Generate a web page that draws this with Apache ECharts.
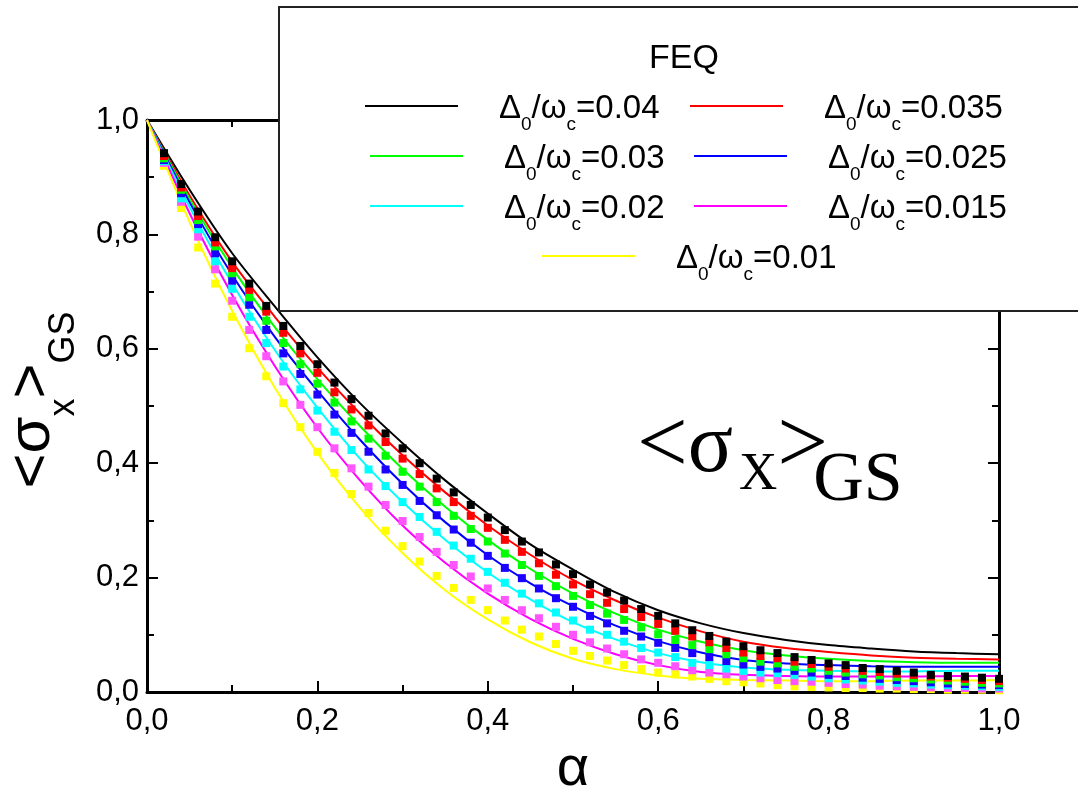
<!DOCTYPE html>
<html>
<head>
<meta charset="utf-8">
<script src="https://cdn.jsdelivr.net/npm/echarts@6/dist/echarts.min.js"></script>
<style>
  html, body { margin: 0; padding: 0; background: #ffffff; }
  #chart { width: 1078px; height: 786px; }
</style>
</head>
<body>
<div id="chart"></div>
<script>
// alpha grid of the solid (theory) curves and of the square (FEQ) points
const alphaLine = [0, 0.05, 0.10, 0.15, 0.20, 0.25, 0.30, 0.35, 0.40, 0.45, 0.50,
                   0.55, 0.60, 0.65, 0.70, 0.75, 0.80, 0.85, 0.90, 0.95, 1.00];
const alphaDots = [0.02, 0.04, 0.06, 0.08, 0.10, 0.12, 0.14, 0.16, 0.18, 0.20,
                   0.22, 0.24, 0.26, 0.28, 0.30, 0.32, 0.34, 0.36, 0.38, 0.40,
                   0.42, 0.44, 0.46, 0.48, 0.50, 0.52, 0.54, 0.56, 0.58, 0.60,
                   0.62, 0.64, 0.66, 0.68, 0.70, 0.72, 0.74, 0.76, 0.78, 0.80,
                   0.82, 0.84, 0.86, 0.88, 0.90, 0.92, 0.94, 0.96, 0.98, 1.00];

// Δ0/ωc values, one per curve
const deltaLabels = ['0.04', '0.035', '0.03', '0.025', '0.02', '0.015', '0.01'];
const lineColors = ['#000000', '#ff0000', '#00ff00', '#0000ff', '#00ffff', '#ff00ff', '#ffff00'];
const dotColors  = ['#000000', '#ff0000', '#00ff00', '#1a00ff', '#00ffff', '#ff55ff', '#ffff00'];

// solid curves <σx>GS(α)
const lineD040 = [1, 0.878, 0.767, 0.674, 0.585, 0.505, 0.435, 0.370, 0.312, 0.258, 0.214,
                  0.174, 0.143, 0.120, 0.103, 0.091, 0.082, 0.076, 0.071, 0.068, 0.066];
const lineD035 = [1, 0.868, 0.752, 0.656, 0.567, 0.487, 0.414, 0.349, 0.291, 0.240, 0.196,
                  0.160, 0.130, 0.106, 0.088, 0.077, 0.070, 0.064, 0.060, 0.058, 0.057];
const lineD030 = [1, 0.862, 0.742, 0.638, 0.547, 0.465, 0.390, 0.324, 0.266, 0.215, 0.172,
                  0.137, 0.109, 0.088, 0.073, 0.064, 0.058, 0.054, 0.052, 0.051, 0.051];
const lineD025 = [1, 0.856, 0.729, 0.621, 0.527, 0.441, 0.364, 0.297, 0.239, 0.190, 0.150,
                  0.116, 0.089, 0.069, 0.056, 0.050, 0.047, 0.045, 0.044, 0.044, 0.044];
const lineD020 = [1, 0.848, 0.714, 0.598, 0.497, 0.408, 0.332, 0.266, 0.209, 0.162, 0.122,
                  0.092, 0.068, 0.052, 0.043, 0.039, 0.037, 0.036, 0.036, 0.037, 0.037];
const lineD015 = [1, 0.837, 0.694, 0.570, 0.462, 0.370, 0.291, 0.226, 0.172, 0.128, 0.093,
                  0.066, 0.047, 0.035, 0.030, 0.028, 0.027, 0.027, 0.027, 0.028, 0.028];
const lineD010 = [1, 0.822, 0.666, 0.532, 0.418, 0.322, 0.243, 0.178, 0.127, 0.087, 0.058,
                  0.040, 0.029, 0.023, 0.021, 0.020, 0.019, 0.019, 0.020, 0.020, 0.021];

// FEQ points
const dotsD040 = [0.942, 0.888, 0.840, 0.795, 0.753, 0.714, 0.675, 0.640, 0.605, 0.573,
                  0.541, 0.512, 0.483, 0.452, 0.426, 0.400, 0.373, 0.349, 0.327, 0.305,
                  0.283, 0.263, 0.244, 0.223, 0.206, 0.188, 0.174, 0.160, 0.145, 0.133,
                  0.120, 0.108, 0.098, 0.088, 0.080, 0.073, 0.068, 0.061, 0.056, 0.050,
                  0.047, 0.042, 0.040, 0.037, 0.034, 0.030, 0.028, 0.027, 0.025, 0.023];
const dotsD035 = [0.937, 0.882, 0.832, 0.786, 0.741, 0.703, 0.665, 0.628, 0.592, 0.558,
                  0.524, 0.494, 0.466, 0.437, 0.408, 0.381, 0.356, 0.332, 0.308, 0.287,
                  0.266, 0.245, 0.225, 0.205, 0.188, 0.171, 0.156, 0.145, 0.131, 0.119,
                  0.107, 0.097, 0.087, 0.077, 0.069, 0.063, 0.059, 0.053, 0.049, 0.044,
                  0.041, 0.037, 0.035, 0.032, 0.030, 0.027, 0.025, 0.023, 0.021, 0.019];
const dotsD030 = [0.933, 0.878, 0.825, 0.779, 0.732, 0.690, 0.649, 0.610, 0.573, 0.539,
                  0.506, 0.473, 0.443, 0.413, 0.385, 0.359, 0.332, 0.308, 0.285, 0.263,
                  0.242, 0.222, 0.203, 0.185, 0.168, 0.152, 0.137, 0.126, 0.113, 0.101,
                  0.091, 0.082, 0.075, 0.066, 0.059, 0.053, 0.050, 0.044, 0.041, 0.037,
                  0.034, 0.031, 0.029, 0.026, 0.024, 0.022, 0.020, 0.018, 0.016, 0.015];
const dotsD025 = [0.930, 0.872, 0.818, 0.767, 0.719, 0.677, 0.633, 0.592, 0.556, 0.520,
                  0.485, 0.453, 0.420, 0.389, 0.362, 0.334, 0.309, 0.284, 0.261, 0.238,
                  0.217, 0.199, 0.181, 0.164, 0.149, 0.133, 0.120, 0.107, 0.097, 0.086,
                  0.077, 0.068, 0.061, 0.054, 0.048, 0.044, 0.041, 0.037, 0.034, 0.030,
                  0.028, 0.025, 0.023, 0.021, 0.019, 0.017, 0.015, 0.014, 0.013, 0.012];
const dotsD020 = [0.928, 0.863, 0.809, 0.753, 0.705, 0.656, 0.610, 0.569, 0.529, 0.492,
                  0.455, 0.423, 0.389, 0.360, 0.332, 0.306, 0.280, 0.256, 0.233, 0.210,
                  0.191, 0.172, 0.155, 0.139, 0.125, 0.109, 0.100, 0.088, 0.077, 0.069,
                  0.061, 0.051, 0.047, 0.041, 0.037, 0.034, 0.033, 0.030, 0.027, 0.024,
                  0.022, 0.020, 0.018, 0.016, 0.015, 0.013, 0.012, 0.011, 0.010, 0.009];
const dotsD015 = [0.925, 0.857, 0.796, 0.739, 0.684, 0.633, 0.587, 0.543, 0.502, 0.463,
                  0.426, 0.391, 0.359, 0.327, 0.299, 0.271, 0.245, 0.222, 0.202, 0.181,
                  0.161, 0.143, 0.129, 0.114, 0.100, 0.087, 0.076, 0.066, 0.057, 0.051,
                  0.045, 0.038, 0.034, 0.031, 0.027, 0.024, 0.021, 0.019, 0.018, 0.016,
                  0.014, 0.013, 0.011, 0.010, 0.009, 0.008, 0.007, 0.007, 0.006, 0.006];
const dotsD010 = [0.920, 0.846, 0.777, 0.714, 0.656, 0.601, 0.552, 0.505, 0.463, 0.420,
                  0.383, 0.346, 0.313, 0.282, 0.255, 0.228, 0.203, 0.182, 0.161, 0.143,
                  0.125, 0.109, 0.097, 0.084, 0.072, 0.063, 0.055, 0.047, 0.040, 0.034,
                  0.031, 0.027, 0.023, 0.019, 0.017, 0.015, 0.012, 0.010, 0.009, 0.008,
                  0.007, 0.007, 0.006, 0.006, 0.005, 0.005, 0.004, 0.004, 0.004, 0.003];

const lineSets = [lineD040, lineD035, lineD030, lineD025, lineD020, lineD015, lineD010];
const dotSets  = [dotsD040, dotsD035, dotsD030, dotsD025, dotsD020, dotsD015, dotsD010];

const SANS = 'Liberation Sans';
const SERIF = 'Liberation Serif';

const seriesName = d => 'Δ0/ωc=' + d;
const fmtComma = v => Number(v).toFixed(1).replace('.', ',');

// where each legend swatch starts (left edge, row centre)
const legendSpots = [[360, 107], [685, 107], [365, 157], [689, 157], [365, 207], [689, 207], [537, 257]];

const series = [];
// solid curves first (legend takes its swatch from these)
deltaLabels.forEach((d, k) => {
  series.push({
    type: 'line',
    name: seriesName(d),
    xAxisIndex: 0, yAxisIndex: 0,
    data: alphaLine.map((a, i) => [a, lineSets[k][i]]),
    smooth: 0.3,
    symbol: 'none',
    showSymbol: false,
    lineStyle: { color: lineColors[k], width: 2 },
    itemStyle: { color: lineColors[k] },
    z: 2
  });
});
// square markers, lowest curve first so the upper ones sit on top
for (let k = deltaLabels.length - 1; k >= 0; k--) {
  series.push({
    type: 'scatter',
    name: seriesName(deltaLabels[k]),
    xAxisIndex: 0, yAxisIndex: 0,
    data: alphaDots.map((a, i) => [a, dotSets[k][i]]),
    symbol: 'rect',
    symbolSize: 8,
    itemStyle: { color: dotColors[k], opacity: 1 },
    z: 3
  });
}

// Δ0/ωc with lowered subscripts: main glyphs hug the top of the line box, subscripts its bottom
const legendRich = {
  m: { fontFamily: SANS, fontSize: 33, color: '#000', lineHeight: 42, verticalAlign: 'top' },
  s: { fontFamily: SANS, fontSize: 19, color: '#000', lineHeight: 42, verticalAlign: 'bottom' }
};

const legends = deltaLabels.map((d, k) => ({
  data: [seriesName(d)],
  left: legendSpots[k][0],
  top: legendSpots[k][1] - 34,
  orient: 'horizontal',
  icon: 'rect',
  itemWidth: 93,
  itemHeight: 2,
  selectedMode: false,
  z: 10,
  formatter: () => '{m|Δ}{s|0}{m|/ω}{s|c}{m|=' + d + '}',
  textStyle: { fontFamily: SANS, fontSize: 33, color: '#000', lineHeight: 42, padding: [14, 0, 0, 36], rich: legendRich }
}));

const axisCommon = {
  type: 'value',
  min: 0, max: 1, interval: 0.2,
  axisLine: { show: true, onZero: false, lineStyle: { color: '#000', width: 3 } },
  axisTick: { show: true, inside: true, length: 11, lineStyle: { color: '#000', width: 2 } },
  minorTick: { show: true, splitNumber: 2, length: 7, lineStyle: { color: '#000', width: 2 } },
  splitLine: { show: false },
  minorSplitLine: { show: false }
};

const option = {
  animation: false,
  backgroundColor: '#ffffff',
  grid: { left: 147, right: 79, top: 120, bottom: 94, containLabel: false, outerBoundsMode: 'none' },
  legend: legends,
  xAxis: [
    Object.assign({}, axisCommon, {
      position: 'bottom',
      axisLabel: { show: true, margin: 14, fontFamily: SANS, fontSize: 31, color: '#000', formatter: fmtComma },
      name: 'α',
      nameLocation: 'middle',
      nameGap: 35,
      nameTextStyle: { fontFamily: SANS, fontSize: 56, color: '#000' }
    }),
    Object.assign({}, axisCommon, { position: 'top', axisLabel: { show: false } })
  ],
  yAxis: [
    Object.assign({}, axisCommon, {
      position: 'left',
      axisLabel: { show: true, margin: 8, fontFamily: SANS, fontSize: 31, color: '#000', formatter: fmtComma }
    }),
    Object.assign({}, axisCommon, { position: 'right', axisLabel: { show: false } })
  ],
  graphic: [
    // legend frame, drawn over the plot
    {
      type: 'rect', z: 5,
      shape: { x: 279, y: 7, width: 860, height: 304 },
      style: { fill: '#ffffff', stroke: '#222222', lineWidth: 2 }
    },
    {
      type: 'text', z: 10, x: 684, y: 59,
      style: { legacy: false, text: 'FEQ', fontFamily: SANS, fontSize: 34, fill: '#000', align: 'center', verticalAlign: 'middle' }
    },
    // y-axis title  <σx>GS
    {
      type: 'text', z: 10, x: 42, y: 400, rotation: Math.PI / 2,
      style: {
        legacy: false,
        text: '{m|<σ}{s|x}{m|>}{s|GS}',
        align: 'center', verticalAlign: 'middle',
        fontFamily: SANS, fontSize: 60, fill: '#000',
        rich: {
          m: { fontFamily: SANS, fontSize: 60, fill: '#000', verticalAlign: 'bottom', padding: [0, 0, 20, 0] },
          s: { fontFamily: SANS, fontSize: 36, fill: '#000', verticalAlign: 'bottom' }
        }
      }
    },
    // in-plot label  <σX>GS
    {
      type: 'text', z: 10, x: 637, y: 403,
      style: {
        legacy: false,
        text: '{lt|<}{sg|σ}{xs|X}{gt|>}{gs|GS}',
        align: 'left', verticalAlign: 'top',
        fontFamily: SERIF, fontSize: 70, fill: '#000',
        rich: {
          lt: { fontFamily: SERIF, fontSize: 90, fill: '#000', verticalAlign: 'bottom', padding: [0, 0, 24, 0] },
          sg: { fontFamily: SERIF, fontSize: 84, fill: '#000', verticalAlign: 'bottom', padding: [0, 0, 26, 0] },
          xs: { fontFamily: SERIF, fontSize: 53, fill: '#000', verticalAlign: 'bottom', padding: [0, 0, 15, 6] },
          gt: { fontFamily: SERIF, fontSize: 90, fill: '#000', verticalAlign: 'bottom', padding: [0, 0, 24, 0], width: 36 },
          gs: { fontFamily: SERIF, fontSize: 70, fill: '#000', verticalAlign: 'bottom' }
        }
      }
    }
  ],
  series: series
};

const chart = echarts.init(document.getElementById('chart'), null, { renderer: 'canvas' });
chart.setOption(option);
</script>
</body>
</html>
